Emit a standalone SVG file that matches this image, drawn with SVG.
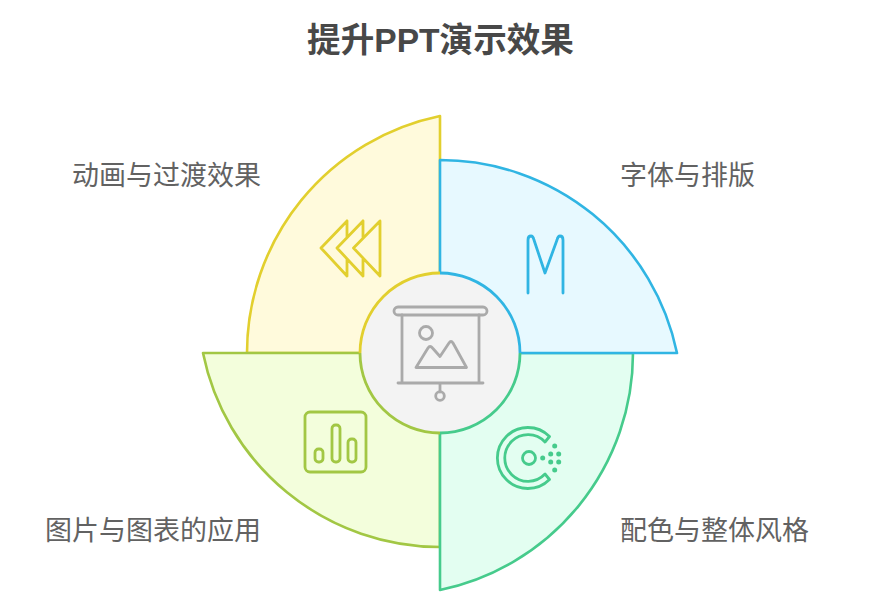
<svg xmlns="http://www.w3.org/2000/svg" width="877" height="606" viewBox="0 0 877 606">
<style>
text{font-family:"Liberation Sans","Noto Sans CJK SC",sans-serif;font-size:27px;fill:#626262}
.t{font-size:33.6px;font-weight:700;fill:#484848}
.s{stroke-width:2.6;stroke-linejoin:round;stroke-linecap:round}
.i{fill:none;stroke-width:2.8;stroke-linecap:round;stroke-linejoin:round}
.a{fill:none;stroke-width:2.8}
</style>
<rect width="877" height="606" fill="#fff"/>
<text class="t" x="440.5" y="51.5" text-anchor="middle">提升PPT演示效果</text>
<g id="node-yellow">
<path class="s" d="M247 353A242 242 0 0 1 440 116L440 353Z" fill="#fffadc" stroke="#e2cf2e"/>
<path class="i" stroke="#e2cf2e" d="M380 221L353.5 248L380 276ZM363 221L337 248L363 276M363 221V238M363 258V276M347 221L321 248L347 276M347 221V237M347 259V276"/>
<text x="72" y="185">动画与过渡效果</text>
</g>
<g id="node-lime">
<path class="s" d="M203 353A242 242 0 0 0 440 547L440 353Z" fill="#f3fedc" stroke="#a2c744"/>
<g class="i" stroke="#a2c744"><rect x="305" y="412" width="61" height="60" rx="5"/><rect x="315" y="449" width="8" height="13" rx="3.5"/><rect x="332" y="425" width="8" height="37" rx="3.5"/><rect x="348" y="439" width="8" height="23" rx="3.5"/></g>
<text x="45" y="540">图片与图表的应用</text>
</g>
<g id="node-green">
<path class="s" d="M633 353A242 242 0 0 1 440 590L440 353Z" fill="#e3fef1" stroke="#46cb8c"/>
<g class="i" stroke="#46cb8c"><path d="M549.5 436.5A30.5 30.5 0 1 0 549.5 479.5L545 474A23.3 23.3 0 1 1 545 442Z"/><circle cx="529" cy="458" r="6.5"/></g>
<g id="dots" fill="#46cb8c"><circle cx="542.7" cy="458" r="2.5"/><circle cx="550.7" cy="454" r="2.5"/><circle cx="550.7" cy="462" r="2.5"/><circle cx="558.7" cy="454" r="2.5"/><circle cx="558.7" cy="462" r="2.5"/><circle cx="554.7" cy="446" r="2.5"/><circle cx="554.7" cy="470" r="2.5"/></g>
<text x="620" y="540">配色与整体风格</text>
</g>
<g id="node-blue">
<path class="s" d="M440 160A242 242 0 0 1 677 353L440 353Z" fill="#e7f9ff" stroke="#30b5e3"/>
<path class="i" stroke="#30b5e3" d="M528 293V240Q528 236 531 236Q533 236 534 240L545 273L557 240Q558 236 560 236Q563 236 563 240V293"/>
<text x="620" y="185">字体与排版</text>
</g>
<g id="node-center">
<circle cx="440" cy="353" r="80" fill="#f3f3f3"/>
<path class="a" stroke="#e2cf2e" d="M360 353A80 80 0 0 1 440 273"/>
<path class="a" stroke="#30b5e3" d="M440 273A80 80 0 0 1 520 353"/>
<path class="a" stroke="#46cb8c" d="M520 353A80 80 0 0 1 440 433"/>
<path class="a" stroke="#a2c744" d="M440 433A80 80 0 0 1 360 353"/>
<g class="i" stroke="#aaaaaa"><rect x="394" y="307" width="93" height="8" rx="4"/><path d="M402 315V383M479 315V383M398 383H483M440 383V392"/><circle cx="440" cy="396" r="4.3"/><circle cx="426" cy="333" r="6.5"/><path d="M416 367.5L428 348Q430 345 432.5 348L440 356.5L449 343Q451 340 453 343L466.5 367.5Z"/></g>
</g>
</svg>
